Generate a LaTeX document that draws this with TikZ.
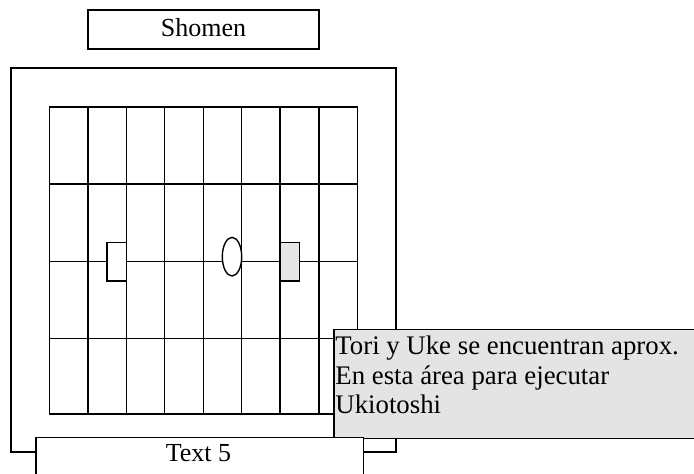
\documentclass[tikz,border=0pt]{standalone}
\usepackage{fontspec}
\setmainfont{Liberation Serif}
\definecolor{boxgray}{RGB}{228,228,228}
\definecolor{tokegray}{RGB}{230,230,230}
\begin{document}
\begin{tikzpicture}[x=0.5pt,y=-0.5pt,
  line/.style={draw=black,line width=0.7pt},
  label/.style={font=\fontsize{13}{14.75}\selectfont,inner sep=0pt},
  notelabel/.style={font=\fontsize{13.4}{14.75}\selectfont,inner sep=0pt}]
\useasboundingbox (0,0) rectangle (694,474);
\clip (0,0) rectangle (694,474);
\fill[white] (0,0) rectangle (694,474);
% Shomen
\draw[line,fill=white] (88,10) rectangle (319,49);
\node[label,anchor=base] (shomen) at (203.5,36.7) {Shomen};
% outer tatami area
\draw[line] (11,68) rectangle (396,452);
% grid
\draw[line] (49.7,107) rectangle (357.3,414);
\foreach \x in {88,126.3,164.7,203.3,241.7,280,319}
  \draw[line] (\x,107) -- (\x,414);
\foreach \y in {184,261.7,338.3}
  \draw[line] (49.7,\y) -- (357.3,\y);
% tori, referee, uke
\draw[line,fill=white] (107,242.3) rectangle (126.3,281);
\draw[line,fill=white] (232,256.7) ellipse [x radius=9.7,y radius=19.3];
\draw[line,fill=tokegray] (280,242.3) rectangle (299.7,281);
% note box
\draw[line,fill=boxgray] (334,329.3) rectangle (700,438.5);
\node[notelabel,anchor=north west,align=left] (note) at (335,336)
  {Tori y Uke se encuentran aprox.\\En esta área para ejecutar\\Ukiotoshi};
% Text 5
\draw[line,fill=white] (36,437.3) rectangle (363.3,480);
\node[label,anchor=base] (text5) at (198.5,461.7) {Text 5};
\end{tikzpicture}
\end{document}
